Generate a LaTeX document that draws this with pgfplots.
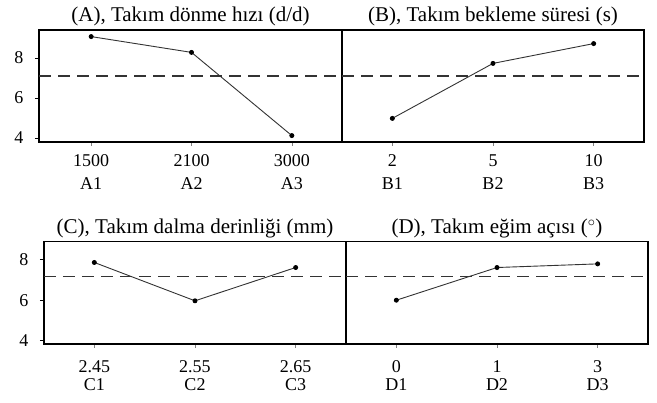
\documentclass[border=0pt]{standalone}
\usepackage{pgfplots}
\pgfplotsset{compat=1.18}
\usepackage{fontspec}
\setmainfont{Liberation Serif}
\definecolor{ln}{HTML}{333333}
\begin{document}
\begin{tikzpicture}
\path (0pt,0pt) rectangle (657pt,403pt);
\pgfplotsset{
  mp/.style={
    scale only axis,
    /pgf/number format/assume math mode=true,
    axis line style={line width=1.1pt, black},
    xmin=-0.5, xmax=2.5,
    xtick={0,1,2}, ytick={4,6,8},
    tick align=outside,
    major tick length=4pt,
    tick label style={font=\fontsize{18}{21}\selectfont},
    xticklabel style={align=center, inner sep=0pt},
    yticklabel style={xshift=-8pt},
    title style={font=\fontsize{21}{24}\selectfont, yshift=-6pt},
    x tick style={gray, line width=0.6pt},
    y tick style={black, line width=0.8pt},
    xtick pos=bottom, ytick pos=left,
    clip=false,
  },
  top/.style={xticklabel style={yshift=-6pt}},
  bot/.style={xticklabel style={yshift=-10pt}},
  dat/.style={ln, line width=0.9pt, mark=*, mark size=2pt, mark options={fill=black, draw=black}},
  mean/.style={ln, line width=1.1pt, dash pattern=on 12pt off 7pt},
}
% (A)
\begin{axis}[mp, top, at={(39pt,261pt)}, anchor=south west, width=303pt, height=112pt,
  xmin=-0.52, ymin=3.8, ymax=9.4,
  title={(A), Takım dönme hızı (d/d)},
  xticklabels={{\strut 1500\\[2pt]\strut A1},{\strut 2100\\[2pt]\strut A2},{\strut 3000\\[2pt]\strut A3}}]
\addplot[mean] coordinates {(-0.52,7.1) (2.5,7.1)};
\addplot[dat] coordinates {(0,9.07) (1,8.28) (2,4.12)};
\end{axis}
% (B)
\begin{axis}[mp, top, at={(342pt,261pt)}, anchor=south west, width=302pt, height=112pt,
  ymin=3.8, ymax=9.4, ytick=\empty,
  title={(B), Takım bekleme süresi (s)},
  xticklabels={{\strut 2\\[2pt]\strut B1},{\strut 5\\[2pt]\strut B2},{\strut 10\\[2pt]\strut B3}}]
\addplot[mean] coordinates {(-0.5,7.1) (2.5,7.1)};
\addplot[dat] coordinates {(0,4.98) (1,7.73) (2,8.72)};
\end{axis}
% (C)
\begin{axis}[mp, bot, at={(44pt,59pt)}, anchor=south west, width=302pt, height=102.3pt,
  ymin=3.83, ymax=8.9,
  title={(C), Takım dalma derinliği (mm)},
  mean/.append style={line width=0.8pt},
  xticklabels={{\strut 2.45\\[-3pt]\strut C1},{\strut 2.55\\[-3pt]\strut C2},{\strut 2.65\\[-3pt]\strut C3}}]
\addplot[mean] coordinates {(-0.5,7.17) (2.5,7.17)};
\addplot[dat] coordinates {(0,7.87) (1,5.97) (2,7.62)};
\end{axis}
% (D)
\begin{axis}[mp, bot, at={(346pt,59pt)}, anchor=south west, width=302pt, height=102.3pt,
  ymin=3.83, ymax=8.9, ytick=\empty,
  title={(D), Takım eğim açısı ($^\circ$)},
  mean/.append style={line width=0.8pt},
  xticklabels={{\strut 0\\[-3pt]\strut D1},{\strut 1\\[-3pt]\strut D2},{\strut 3\\[-3pt]\strut D3}}]
\addplot[mean] coordinates {(-0.5,7.17) (2.5,7.17)};
\addplot[dat] coordinates {(0,6.0) (1,7.62) (2,7.8)};
\end{axis}
\end{tikzpicture}
\end{document}
